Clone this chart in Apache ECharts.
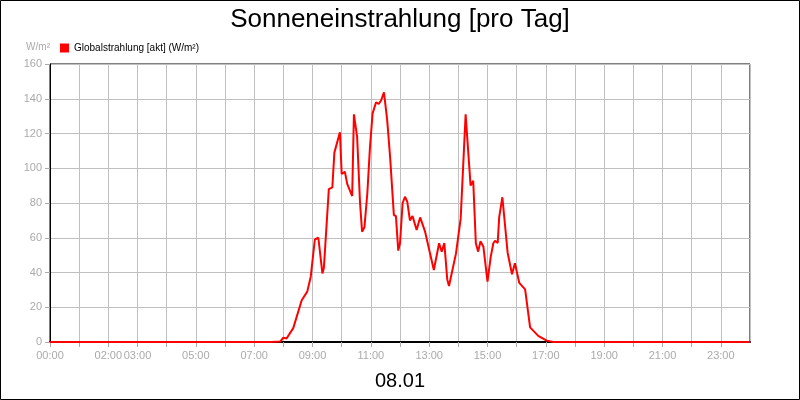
<!DOCTYPE html>
<html><head><meta charset="utf-8">
<script src="https://cdn.jsdelivr.net/npm/echarts@6/dist/echarts.min.js"></script>
<style>html,body{margin:0;padding:0;background:#fff}#main{width:800px;height:400px}</style>
</head><body><div id="main"></div>
<script>
// hour of day and W/m²
const hours = [0,7.6,7.9,8.0,8.11,8.34,8.63,8.82,8.94,9.08,9.2,9.34,9.39,9.56,9.68,9.75,9.94,10.0,10.11,10.19,10.36,10.42,10.53,10.63,10.7,10.78,10.88,10.97,11.06,11.18,11.27,11.35,11.45,11.56,11.66,11.79,11.86,11.94,12.0,12.09,12.17,12.25,12.34,12.43,12.57,12.69,12.86,13.16,13.34,13.43,13.52,13.62,13.68,13.92,14.08,14.25,14.42,14.51,14.6,14.68,14.76,14.86,15.0,15.11,15.2,15.26,15.35,15.4,15.51,15.69,15.84,15.94,16.09,16.29,16.46,16.74,17.03,17.26,24];
const radiation = [0,0,0.3,2.5,2,8,24,29,37.6,59,60,39.5,42.6,88,89,109,120.7,96.7,98,91,84,131,118,80,63.5,66,85.6,112,131.6,138,137,139,143.7,127.8,106.6,73,72.5,52.6,56.8,80,83.6,80.7,70,72.5,64.5,71.7,63.5,41.4,56.8,52,57,36,32.2,51,71,131,90,92.8,56.8,52,58,54.8,34.7,49,56.8,58.3,57,71.7,83.3,51.4,39,45.3,34,30.3,8.4,3.5,0.8,0,0];
const labelHours = [0,2,3,5,7,9,11,13,15,17,19,21,23];

const grey = '#aaaaaa';
const chart = echarts.init(document.getElementById('main'));
chart.setOption({
  animation: false,
  textStyle: {fontFamily: 'Liberation Sans'},
  title: [
    {text: 'Sonneneinstrahlung [pro Tag]', left: 'center', top: 2,
     textStyle: {fontSize: 26, fontWeight: 'normal', color: '#000'}},
    {text: '08.01', left: 'center', top: 366,
     textStyle: {fontSize: 20, fontWeight: 'normal', color: '#000'}}
  ],
  legend: {left: 55, top: 38, itemWidth: 9, itemHeight: 9, icon: 'rect',
    textStyle: {fontSize: 10, color: '#000'}, data: ['Globalstrahlung [akt] (W/m²)']},
  graphic: [{type: 'rect', shape: {x: 0.5, y: 0.5, width: 799, height: 399},
    style: {fill: 'none', stroke: '#000', lineWidth: 1}, silent: true}],
  grid: {left: 50, right: 50, top: 64, bottom: 58, show: true, borderColor: '#000', borderWidth: 1},
  xAxis: {type: 'value', min: 0, max: 24, interval: 1,
    axisLine: {lineStyle: {color: '#000', width: 2}},
    axisTick: {lineStyle: {color: grey}, length: 5},
    axisLabel: {color: grey, fontSize: 11, showMaxLabel: false,
      formatter: v => labelHours.includes(v) ? String(v).padStart(2, '0') + ':00' : ''},
    splitLine: {lineStyle: {color: '#c0c0c0'}}},
  yAxis: {type: 'value', min: 0, max: 160, interval: 20, name: 'W/m²',
    nameGap: 12, nameTextStyle: {color: grey, fontSize: 10, align: 'right'},
    axisLine: {show: true, lineStyle: {color: '#000'}},
    axisTick: {show: true, lineStyle: {color: grey}},
    axisLabel: {color: grey, fontSize: 11},
    splitLine: {lineStyle: {color: '#c0c0c0'}}},
  series: [{name: 'Globalstrahlung [akt] (W/m²)', type: 'line', showSymbol: false,
    itemStyle: {color: '#ff0000'}, lineStyle: {color: '#ff0000', width: 2},
    data: hours.map((h, i) => [h, radiation[i]])}]
});
</script></body></html>
